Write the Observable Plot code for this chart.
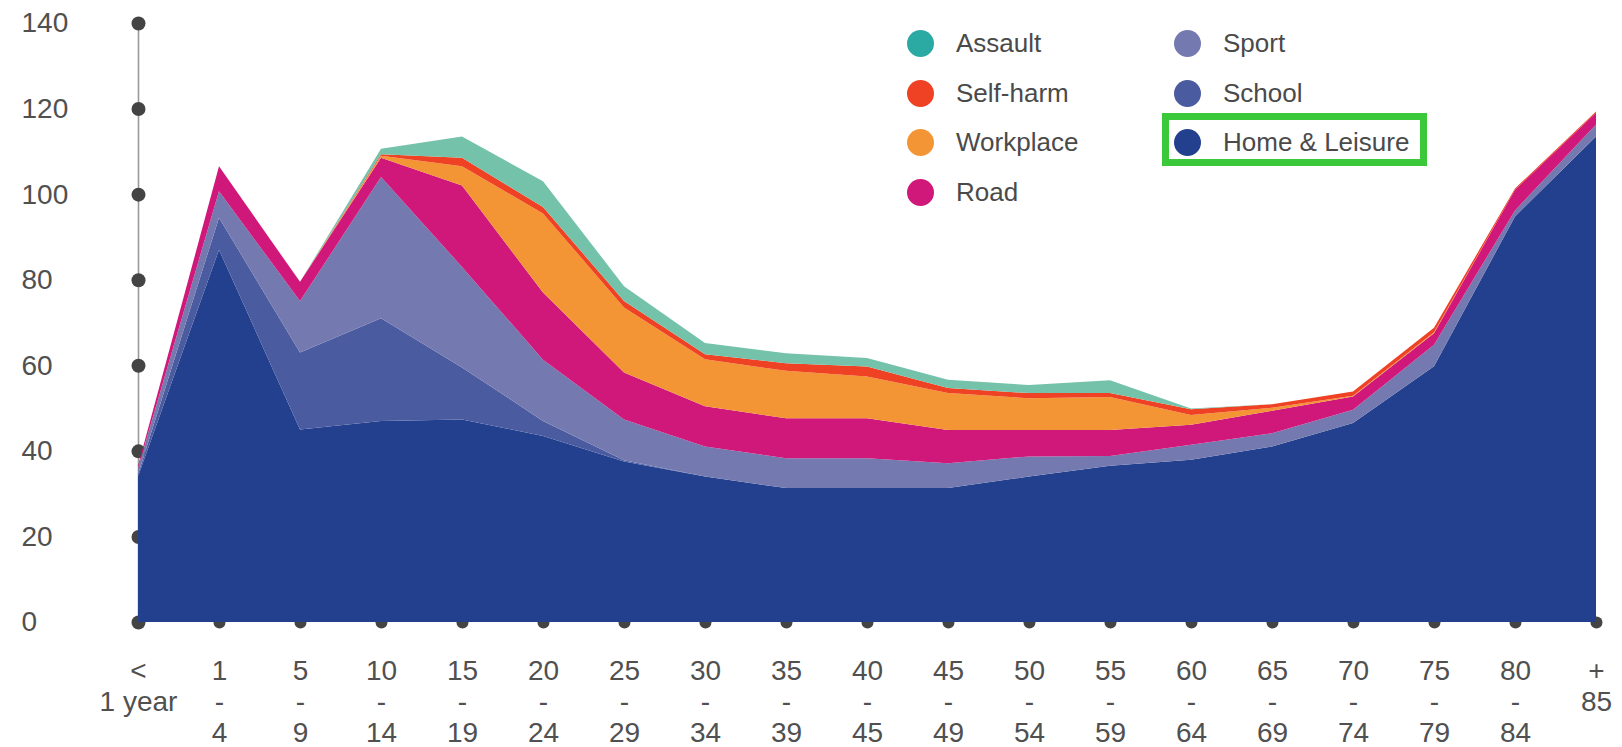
<!DOCTYPE html>
<html>
<head>
<meta charset="utf-8">
<script src="https://cdn.jsdelivr.net/npm/d3@7"></script>
<script src="https://cdn.jsdelivr.net/npm/@observablehq/plot@0.6"></script>
<style>
  html, body { margin: 0; padding: 0; background: #fff; }
  #wrap { position: relative; width: 1622px; height: 747px; font-family: "Liberation Sans", Arial, Helvetica, sans-serif; }
  #wrap svg { position: absolute; left: 0; top: 0; }
  .legend { position: absolute; left: 907px; top: 19px; display: grid; grid-template-rows: repeat(4, 49.5px); grid-auto-flow: column; grid-template-columns: 267px 260px; }
  .item { display: flex; align-items: center; font-size: 26px; color: #4a4a4a; white-space: nowrap; }
  .dot { width: 27px; height: 27px; border-radius: 50%; margin-right: 22px; flex: none; }
  .highlight { position: absolute; left: 1162px; top: 113px; width: 265px; height: 53px; border: 7px solid #3bc93b; box-sizing: border-box; }
</style>
</head>
<body>
<div id="wrap"></div>
<script>
// ---- data ----
const ages = ["<1", "1-4", "5-9", "10-14", "15-19", "20-24", "25-29", "30-34", "35-39", "40-44",
              "45-49", "50-54", "55-59", "60-64", "65-69", "70-74", "75-79", "80-84", "85+"];
const ageLabels = ["<\n1 year", "1\n-\n4", "5\n-\n9", "10\n-\n14", "15\n-\n19", "20\n-\n24", "25\n-\n29",
                   "30\n-\n34", "35\n-\n39", "40\n-\n45", "45\n-\n49", "50\n-\n54", "55\n-\n59", "60\n-\n64",
                   "65\n-\n69", "70\n-\n74", "75\n-\n79", "80\n-\n84", "+\n85"];
const causes = ["Home & Leisure", "School", "Sport", "Road", "Workplace", "Self-harm", "Assault"];

const homeLeisure = [34, 87, 45, 47, 47.3, 43.5, 37.5, 34, 31.3, 31.3, 31.3, 34, 36.5, 37.9, 41, 46.5, 59.8, 94.8, 113.5];
const school      = [0.5, 7.5, 18, 24, 12.2, 3.5, 0.3, 0, 0, 0, 0, 0, 0, 0, 0, 0, 0, 0, 0];
const sport       = [1.5, 6.2, 12, 33, 23.5, 14.3, 9.5, 7, 7, 7, 5.8, 4.7, 2.3, 3.5, 3.1, 3.1, 5, 1.4, 2.8];
const road        = [0.5, 5.8, 4.5, 4.5, 19, 15.7, 11, 9.4, 9.3, 9.3, 7.8, 6.2, 6.1, 4.7, 5.3, 3.1, 2.7, 4.8, 2.7];
const workplace   = [0, 0, 0, 0.5, 4.5, 18.5, 15.2, 11, 11.1, 9.8, 8.6, 7.4, 7.7, 2.3, 0.7, 0.2, 0.2, 0, 0];
const selfHarm    = [0, 0, 0, 0.3, 2, 1.5, 1.5, 1.2, 1.8, 2.3, 1.2, 1.2, 0.9, 1.3, 0.8, 1, 1.1, 0.3, 0.3];
const assault     = [0, 0, 0, 1.3, 5, 6, 3.5, 2.6, 2.3, 2, 1.9, 1.9, 3, 0.2, 0, 0, 0, 0, 0];

const yTicks = [0, 20, 40, 60, 80, 100, 120, 140];

const areaColors   = ["#22408e", "#4b5ba0", "#7479b0", "#d0187a", "#f49535", "#ef4123", "#75c2aa"];
const legendColors = {"Assault": "#2aaaa2", "Self-harm": "#ef4123", "Workplace": "#f49535", "Road": "#d0187a",
                      "Sport": "#7479b0", "School": "#4b5ba0", "Home & Leisure": "#22408e"};
const legendOrder  = ["Assault", "Self-harm", "Workplace", "Road", "Sport", "School", "Home & Leisure"];

// ---- build ----
const seriesList = [homeLeisure, school, sport, road, workplace, selfHarm, assault];
const rows = causes.flatMap((c, k) => seriesList[k].map((v, i) => ({age: ages[i], cause: c, value: v})));

const chart = Plot.plot({
  width: 1622,
  height: 747,
  marginLeft: 133,
  marginRight: 22,
  marginTop: 23,
  marginBottom: 125,
  x: {type: "point", domain: ages, padding: 0, axis: null},
  y: {domain: [0, 140], axis: null},
  color: {domain: causes, range: areaColors},
  style: {fontFamily: "'Liberation Sans', Arial, Helvetica, sans-serif", background: "transparent", overflow: "visible"},
  marks: [
    Plot.ruleX([ages[0]], {y1: 0, y2: 140, stroke: "#9a9a9a", strokeWidth: 1.6}),
    Plot.dot(yTicks, {x: () => ages[0], y: d => d, r: 7, fill: "#444"}),
    Plot.dot(ages, {x: d => d, y: () => 0, r: 6, fill: "#444"}),
    Plot.areaY(rows, {x: "age", y: "value", fill: "cause", z: "cause", order: causes}),
    Plot.text(yTicks, {x: () => ages[0], y: d => d, text: d => String(d), textAnchor: "start", dx: -117,
                       fontSize: 28, fill: "#505050"}),
    Plot.text(ages, {x: d => d, y: () => 0, text: (d, i) => ageLabels[i], lineAnchor: "top", dy: 36,
                     lineHeight: 1.1, fontSize: 28, fill: "#505050"})
  ]
});

const wrap = document.getElementById("wrap");
wrap.appendChild(chart);

const legend = document.createElement("div");
legend.className = "legend";
for (const name of legendOrder) {
  const item = document.createElement("div");
  item.className = "item";
  const dot = document.createElement("span");
  dot.className = "dot";
  dot.style.background = legendColors[name];
  const label = document.createElement("span");
  label.textContent = name;
  item.appendChild(dot);
  item.appendChild(label);
  legend.appendChild(item);
}
wrap.appendChild(legend);

const box = document.createElement("div");
box.className = "highlight";
wrap.appendChild(box);
</script>
</body>
</html>
